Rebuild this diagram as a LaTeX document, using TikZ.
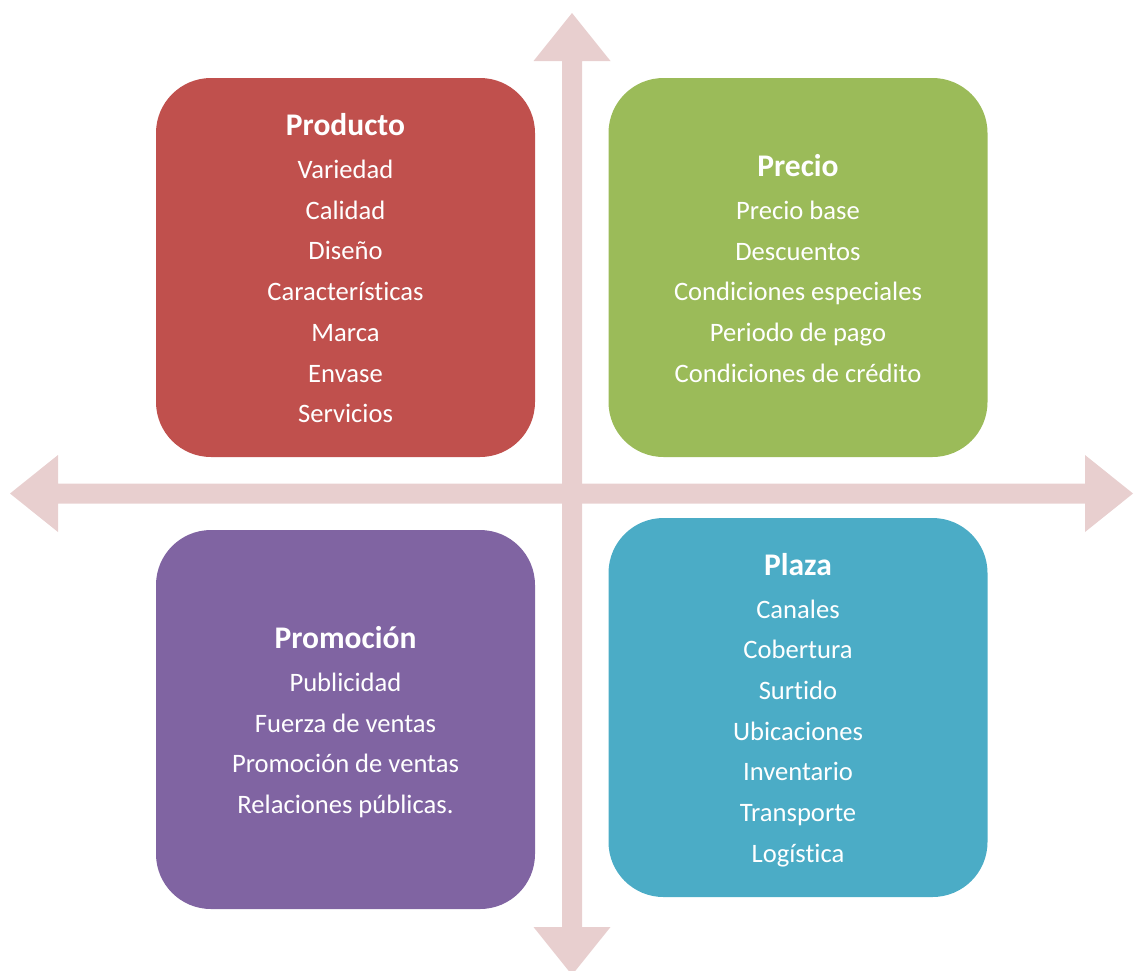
\documentclass[tikz,border=0pt]{standalone}
\usepackage{fontspec}
\setmainfont{Carlito}[Ligatures={NoCommon}]
\definecolor{axispink}{HTML}{E8CFCF}
\definecolor{prodred}{HTML}{C0504D}
\definecolor{preciogreen}{HTML}{9BBB59}
\definecolor{promopurple}{HTML}{8064A2}
\definecolor{plazateal}{HTML}{4BACC6}
\newcommand{\quadtitle}[1]{{\fontsize{31.5}{40.7}\selectfont\bfseries #1}\\[2.3pt]}
\begin{document}
\begin{tikzpicture}[x=1pt,y=-1pt,
  quadbox/.style={rounded corners=55pt, minimum width=379pt, minimum height=379pt,
    inner sep=0pt},
  quadtext/.style={text=white, align=center, inner sep=0pt,
    font=\fontsize{26.6}{40.7}\selectfont},
  axisarrow/.style={fill=axispink, draw=none}]
\useasboundingbox (0,0) rectangle (1134,970);
\clip (0,0) rectangle (1134,970);
% vertical double arrow
\fill[axisarrow] (572,13) -- (610.5,61) -- (582,61) -- (582,927) -- (610.5,927)
  -- (572,975) -- (533.5,927) -- (562,927) -- (562,61) -- (533.5,61) -- cycle;
% horizontal double arrow
\fill[axisarrow] (10,493.5) -- (58,455) -- (58,483.5) -- (1085,483.5) -- (1085,455)
  -- (1133,493.5) -- (1085,532) -- (1085,503.5) -- (58,503.5) -- (58,532) -- cycle;
% the four quadrant boxes
\node[quadbox, fill=prodred] (producto) at (345.5,267.5) {};
\node[quadbox, fill=preciogreen] (precio) at (798,267.5) {};
\node[quadbox, fill=promopurple] (promocion) at (345.5,719.5) {};
\node[quadbox, fill=plazateal] (plaza) at (798,707.5) {};
% their lists
\node[quadtext] (productotext) at ([yshift=-0.7pt]producto.center)
  {\quadtitle{Producto} Variedad\\ Calidad\\ Diseño\\ Características\\ Marca\\ Envase\\ Servicios};
\node[quadtext] (preciotext) at ([yshift=-1pt]precio.center)
  {\quadtitle{Precio} Precio base\\ Descuentos\\ Condiciones especiales\\ Periodo de pago\\ Condiciones de crédito};
\node[quadtext] (promociontext) at ([yshift=-2.7pt]promocion.center)
  {\quadtitle{Promoción} Publicidad\\ Fuerza de ventas\\ Promoción de ventas\\ Relaciones públicas.};
\node[quadtext] (plazatext) at ([yshift=-2.5pt]plaza.center)
  {\quadtitle{Plaza} Canales\\ Cobertura\\ Surtido\\ Ubicaciones\\ Inventario\\ Transporte\\ Logística};
\end{tikzpicture}
\end{document}
